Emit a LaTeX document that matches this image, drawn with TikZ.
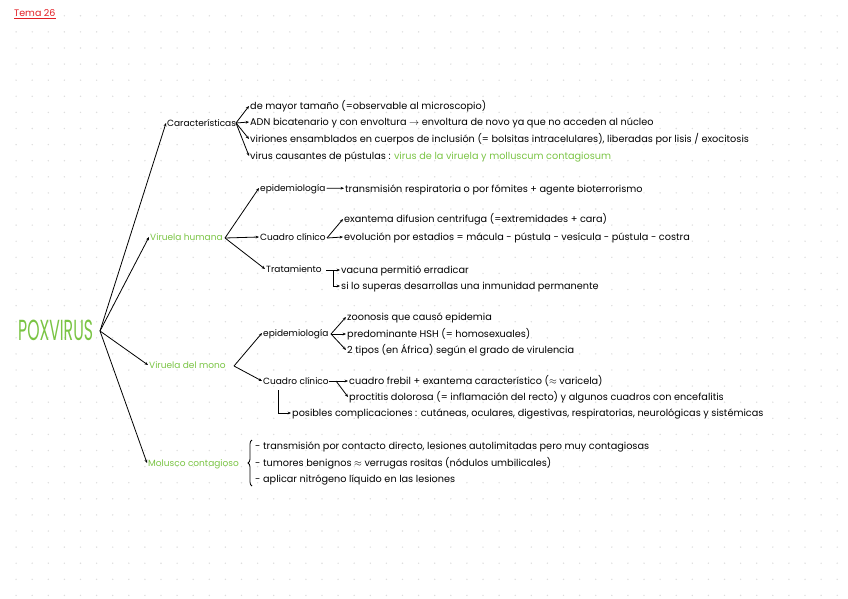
\documentclass[tikz,border=0pt]{standalone}
\usepackage{fontspec}
\setmainfont{Poppins}
\usetikzlibrary{arrows.meta,positioning,decorations.pathreplacing}
\definecolor{poxgreen}{RGB}{122,196,68}
\definecolor{temared}{RGB}{226,30,36}
\tikzset{
  lbl/.style={anchor=west,inner sep=1pt,font=\fontsize{9}{10}\selectfont,text height=1.5ex,text depth=0.35ex},
  txt/.style={lbl,font=\fontsize{9.7}{10}\selectfont},
  head/.style={lbl,text=poxgreen},
  link/.style={-{Stealth[length=3.4pt,width=2.8pt]},line width=0.8pt},
  wire/.style={line width=0.8pt},
}

\begin{document}
\begin{tikzpicture}[x=1pt,y=-1pt]
  \useasboundingbox (0,0) rectangle (848,599);
  % dotted page
  \foreach \i in {1,...,52}
    \foreach \j in {1,...,37}
      \fill[black!13] ({16.1*\i},{16.1*\j-0.3}) circle (0.8pt);

  \node[anchor=west,inner sep=0pt,text=temared,font=\fontsize{9.5}{10}\selectfont] (tema) at (14,13) {Tema 26};
  \draw[temared,line width=0.9pt] ([yshift=-1.8pt]tema.south west) -- ([yshift=-1.8pt]tema.south east);

  \node[anchor=west,inner sep=0pt,text=poxgreen,font=\fontsize{29}{29}\selectfont] (pox) at (18,330) {\scalebox{0.54}[1]{POXVIRUS}};
  \coordinate (pxo) at (100,331);

  % caracteristicas
  \node[lbl] (car) at (166,123) {Características};
  \coordinate (caro) at (236,123);
  \node[txt] (c1) at (249,106) {de mayor tamaño (=observable al microscopio)};
  \node[txt] (c2) at (249,122) {ADN bicatenario y con envoltura $\rightarrow$ envoltura de novo ya que no acceden al núcleo};
  \node[txt] (c3) at (249,139) {viriones ensamblados en cuerpos de inclusión (= bolsitas intracelulares), liberadas por lisis / exocitosis};
  \node[txt] (c4) at (249,156) {virus causantes de pústulas : \textcolor{poxgreen}{virus de la viruela y molluscum contagiosum}};

  % viruela humana
  \node[head] (hum) at (149,237) {Viruela humana};
  \coordinate (humo) at (225,238);
  \node[lbl] (hepi) at (259,188) {epidemiología};
  \node[txt] (htra) at (344,189) {transmisión respiratoria o por fómites + agente bioterrorismo};
  \node[lbl] (hcua) at (259,237) {Cuadro clínico};
  \coordinate (hcuo) at (327,238);
  \node[txt] (he1) at (343,219) {exantema difusion centrifuga (=extremidades + cara)};
  \node[txt] (he2) at (343,237) {evolución por estadios = mácula - pústula - vesícula - pústula - costra};
  \node[lbl] (htrat) at (265,269) {Tratamiento};
  \coordinate (htro) at (326,270);
  \coordinate (htrk) at (333,270);
  \node[txt] (ht1) at (340,270) {vacuna permitió erradicar};
  \node[txt] (ht2) at (340,286) {si lo superas desarrollas una inmunidad permanente};

  % viruela del mono
  \node[head] (mono) at (148,365) {Viruela del mono};
  \coordinate (monoo) at (234,366);
  \node[lbl] (mepi) at (262,333) {epidemiología};
  \coordinate (mepio) at (331,334);
  \node[txt] (m1) at (346,317) {zoonosis que causó epidemia};
  \node[txt] (m2) at (346,334) {predominante HSH (= homosexuales)};
  \node[txt] (m3) at (346,350) {2 tipos (en África) según el grado de virulencia};
  \node[lbl] (mcua) at (262,381) {Cuadro clínico};
  \coordinate (mcuo) at (329,381);
  \coordinate (mcuk) at (336,381);
  \node[txt] (m4) at (348,381) {cuadro frebil + exantema característico ($\approx$ varicela)};
  \node[txt] (m5) at (348,397) {proctitis dolorosa (= inflamación del recto) y algunos cuadros con encefalitis};
  \coordinate (mcud) at (278,390);
  \node[txt] (mcom) at (291,413) {posibles complicaciones : cutáneas, oculares, digestivas, respiratorias, neurológicas y sistémicas};

  % molusco
  \node[head] (mol) at (147,463) {Molusco contagioso};
  \node[txt] (mo1) at (254,446) {- transmisión por contacto directo, lesiones autolimitadas pero muy contagiosas};
  \node[txt] (mo2) at (254,463) {- tumores benignos $\approx$ verrugas rositas (nódulos umbilicales)};
  \node[txt] (mo3) at (254,479) {- aplicar nitrógeno líquido en las lesiones};
  \draw[wire,decorate,decoration={brace,amplitude=4pt}] (252,486) -- (252,440);

  % connectors
  \foreach \t in {car,hum,mono,mol}
    \draw[link] (pxo) -- (\t.west);
  \foreach \t in {c1,c2,c3,c4}
    \draw[link] (caro) -- (\t.west);
  \foreach \t in {hepi,hcua,htrat}
    \draw[link] (humo) -- (\t.west);
  \draw[link] (hepi) -- (htra);
  \foreach \t in {he1,he2}
    \draw[link] (hcuo) -- (\t.west);
  \draw[link] (htro) -- (ht1.west);
  \draw[link] (htrk) |- (ht2.west);
  \foreach \t in {mepi,mcua}
    \draw[link] (monoo) -- (\t.west);
  \foreach \t in {m1,m2,m3}
    \draw[link] (mepio) -- (\t.west);
  \draw[link] (mcuo) -- (m4.west);
  \draw[link] (mcuk) -- (m5.west);
  \draw[link] (mcud) |- (mcom.west);
\end{tikzpicture}
\end{document}
